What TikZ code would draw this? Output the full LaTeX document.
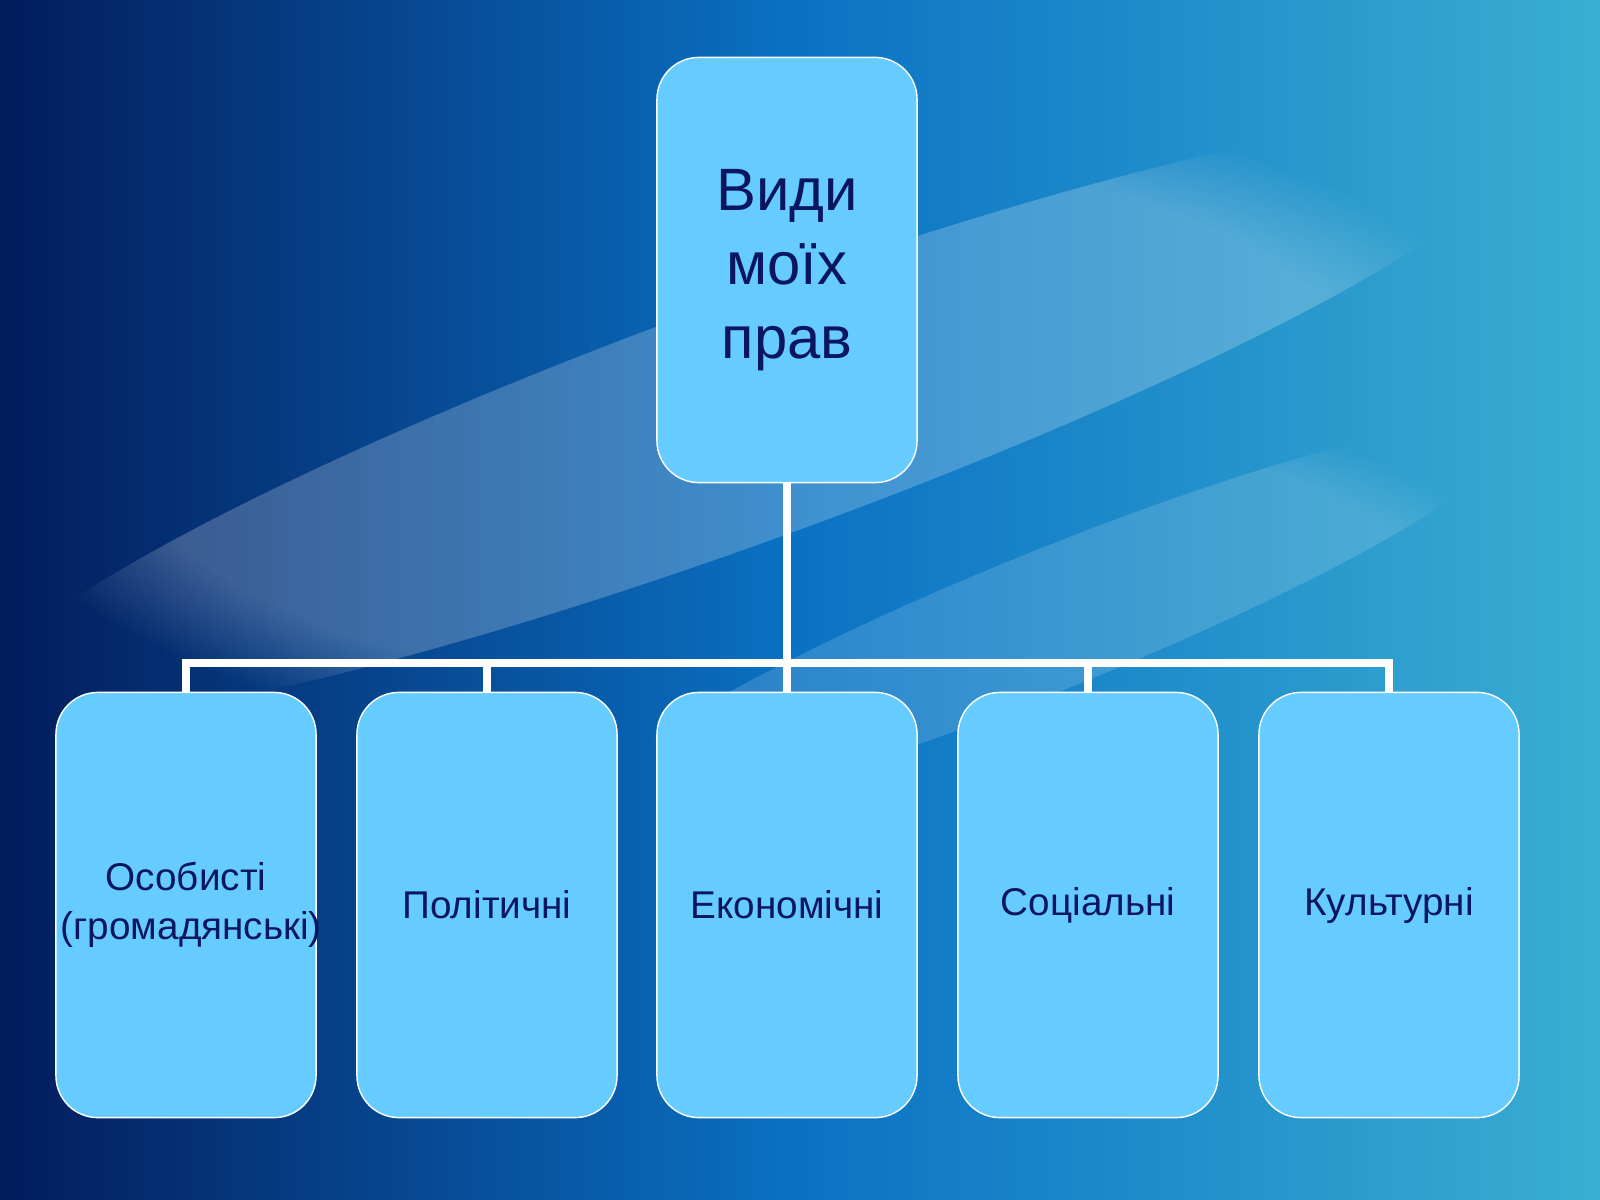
\documentclass[tikz,border=0pt]{standalone}
\usepackage{fontspec}
\setmainfont{Liberation Sans}
\usetikzlibrary{positioning,fadings}
\definecolor{boxfill}{HTML}{66CCFF}
\definecolor{boxtext}{HTML}{0A1660}
\definecolor{bgdark}{HTML}{031C5C}
\definecolor{bgmid}{HTML}{0A72C4}
\definecolor{bglight}{HTML}{3AAED2}

\begin{document}
\begin{tikzpicture}[x=0.01cm, y=-0.01cm,
        every node/.style={font=\small, inner sep=1pt},
        rightbox/.style={draw=white, thin, fill=boxfill, rounded corners=0.42cm,
            minimum width=2.6cm, minimum height=4.25cm, text width=2.5cm, text=boxtext,
            align=center, font=\fontsize{11pt}{14pt}\selectfont},
        link/.style={draw=white, line width=2.2pt}]
        % Background
        \useasboundingbox (0,0) rectangle (1600,1200);
        \shade[shading angle=-60, left color=bgdark, right color=bglight, middle color=bgmid] (0,0) rectangle (1600,1200);
        \fill[white, opacity=0.22, path fading=circle with fuzzy edge 20 percent,
            rotate around={20:(750,420)}] (750,420) ellipse (820 and 120);
        \fill[white, opacity=0.15, path fading=circle with fuzzy edge 20 percent,
            rotate around={22:(1050,620)}] (1050,620) ellipse (500 and 70);

        % Top box
        \node[rightbox, font=\fontsize{17pt}{21pt}\selectfont] (root) at (787,270) {Види\\ моїх прав};

        % Bottom boxes
        \node[rightbox] (personal) at (186,905) {Особисті\\(громадянські)};
        \node[rightbox] (political) at (487,905) {Політичні};
        \node[rightbox] (economic) at (787,905) {Економічні};
        \node[rightbox] (social) at (1088,905) {Соціальні};
        \node[rightbox] (cultural) at (1389,905) {Культурні};

        % Connectors
        \coordinate (hub) at (787,663);
        \draw[link] (root.south) -- (hub);
        \draw[link] (personal.north) |- (cultural.north |- hub) -- (cultural.north);
        \foreach \n in {political, economic, social}
            \draw[link] (\n.north) -- (\n.north |- hub);
    \end{tikzpicture}
\end{document}
